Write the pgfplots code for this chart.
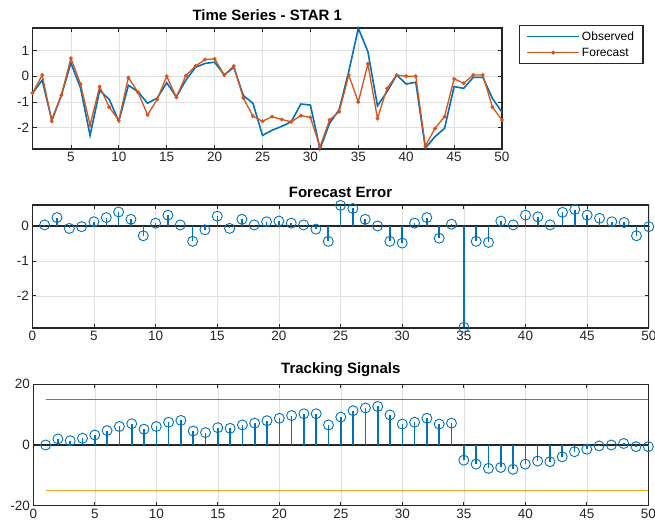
\documentclass[border=0pt]{standalone}
\usepackage{pgfplots}
\pgfplotsset{compat=1.18}
\usepackage{fontspec}
\setmainfont{Liberation Sans}
\definecolor{mblue}{rgb}{0,0.447,0.741}
\definecolor{morange}{rgb}{0.85,0.325,0.098}
\definecolor{myellow}{rgb}{0.929,0.694,0.125}
\definecolor{axgray}{rgb}{0.15,0.15,0.15}
\pgfplotsset{
 mstyle/.style={
  scale only axis,
  anchor=south west,
  /pgf/number format/assume math mode=true,
  axis line style={axgray, line width=1.2pt},
  tick style={axgray, line width=0.8pt},
  major tick length=4pt,
  grid=major,
  major grid style={gray!25, line width=0.6pt},
  tick label style={font=\fontsize{13.5}{15}\selectfont, text=axgray},
  title style={font=\bfseries\fontsize{15}{17}\selectfont, yshift=-2pt},
  clip=false,
 }
}
\begin{document}
\begin{tikzpicture}
\useasboundingbox (0,0) rectangle (655pt,530pt);
% ---------- Time series ----------
\begin{axis}[mstyle,
  at={(32.6pt,381pt)}, width=469.4pt, height=121pt,
  xmin=1, xmax=50, ymin=-2.83, ymax=1.88,
  xtick={5,10,...,50}, ytick={-2,-1,0,1},
  title={Time Series - STAR 1},
  legend style={at={(1.036,1.025)}, anchor=north west, draw=axgray, line width=1.2pt,
    font=\fontsize{12}{14}\selectfont, inner xsep=7pt, inner ysep=4pt, row sep=2pt},
  legend cell align=left,
  legend image code/.code={\draw[mark repeat=2,mark phase=2,#1,line width=1.5pt] plot coordinates {(0pt,0pt) (26pt,0pt) (52pt,0pt)};},
]
\addplot[mblue, line width=1.6pt] table {
x y
1 -0.65
2 -0.15
3 -1.7
4 -0.75
5 0.52
6 -0.45
7 -2.3
8 -0.55
9 -0.9
10 -1.75
11 -0.35
12 -0.6
13 -1.05
14 -0.85
15 -0.25
16 -0.8
17 -0.15
18 0.35
19 0.5
20 0.55
21 0.05
22 0.35
23 -0.75
24 -1.05
25 -2.3
26 -2.1
27 -1.95
28 -1.77
29 -1.08
30 -1.12
31 -2.83
32 -1.83
33 -1.3
34 0.18
35 1.87
36 0.96
37 -1.15
38 -0.6
39 0.05
40 -0.3
41 -0.23
42 -2.8
43 -2.35
44 -2.03
45 -0.4
46 -0.47
47 -0.04
48 -0.04
49 -0.86
50 -1.4
};
\addlegendentry{Observed}
\addplot[morange, line width=1.3pt, mark=*, mark size=1.2pt] table {
x y
1 -0.65
2 0.05
3 -1.75
4 -0.73
5 0.7
6 -0.3
7 -1.9
8 -0.4
9 -1.2
10 -1.72
11 -0.05
12 -0.62
13 -1.5
14 -0.9
15 0.0
16 -0.82
17 0.03
18 0.4
19 0.65
20 0.68
21 0.05
22 0.4
23 -0.85
24 -1.55
25 -1.75
26 -1.57
27 -1.68
28 -1.77
29 -1.53
30 -1.6
31 -2.75
32 -1.7
33 -1.38
34 0.05
35 -1.0
36 0.48
37 -1.64
38 -0.47
39 0.05
40 0.0
41 0.0
42 -2.72
43 -2.03
44 -1.57
45 -0.1
46 -0.27
47 0.05
48 0.05
49 -1.2
50 -1.7
};
\addlegendentry{Forecast}
\end{axis}
% ---------- Forecast error ----------
\begin{axis}[mstyle,
  at={(32.3pt,202pt)}, width=616.5pt, height=123pt,
  xmin=0, xmax=50, ymin=-2.92, ymax=0.6,
  xtick={0,5,...,50}, ytick={-2,-1,0},
  title={Forecast Error},
]
\addplot[axgray, line width=1.3pt] coordinates {(0,0) (50,0)};
\addplot[mblue, ycomb, line width=1.5pt, mark=o, mark size=5pt, mark options={line width=0.9pt}] table {
x y
1 0.03
2 0.24
3 -0.07
4 -0.02
5 0.12
6 0.24
7 0.4
8 0.19
9 -0.28
10 0.08
11 0.31
12 0.03
13 -0.44
14 -0.11
15 0.28
16 -0.07
17 0.19
18 0.03
19 0.12
20 0.14
21 0.08
22 0.03
23 -0.09
24 -0.44
25 0.59
26 0.5
27 0.19
28 0.0
29 -0.44
30 -0.49
31 0.08
32 0.24
33 -0.35
34 0.05
35 -2.9
36 -0.44
37 -0.47
38 0.14
39 0.03
40 0.31
41 0.26
42 0.03
43 0.39
44 0.47
45 0.31
46 0.22
47 0.12
48 0.1
49 -0.28
50 -0.02
};
\end{axis}
% ---------- Tracking signals ----------
\begin{axis}[mstyle,
  at={(33.3pt,24.3pt)}, width=615pt, height=121.4pt,
  xmin=0, xmax=50, ymin=-20, ymax=20,
  xtick={0,5,...,50}, ytick={-20,0,20},
  title={Tracking Signals},
]
\addplot[morange, line width=1.4pt] coordinates {(1,15) (50,15)};
\addplot[myellow, line width=1.4pt] coordinates {(1,-15) (50,-15)};
\addplot[axgray, line width=1.3pt] coordinates {(0,0) (50,0)};
\addplot[mblue, ycomb, line width=1.6pt, mark=o, mark size=5pt, mark options={line width=0.9pt}] table {
x y
1 0
2 2.0
3 1.4
4 2.2
5 3.3
6 4.75
7 6.1
8 7.0
9 5.2
10 6.1
11 7.5
12 8.1
13 4.6
14 4.1
15 5.7
16 5.5
17 6.6
18 7.2
19 8.0
20 8.8
21 9.7
22 10.3
23 10.3
24 6.6
25 9.2
26 11.3
27 12.2
28 12.7
29 9.9
30 6.9
31 7.5
32 8.8
33 6.9
34 7.2
35 -5.0
36 -6.3
37 -7.7
38 -7.4
39 -8.0
40 -6.3
41 -5.3
42 -5.5
43 -3.9
44 -2.2
45 -1.4
46 -0.3
47 0
48 0.5
49 -0.55
50 -0.55
};
\end{axis}
\end{tikzpicture}
\end{document}
